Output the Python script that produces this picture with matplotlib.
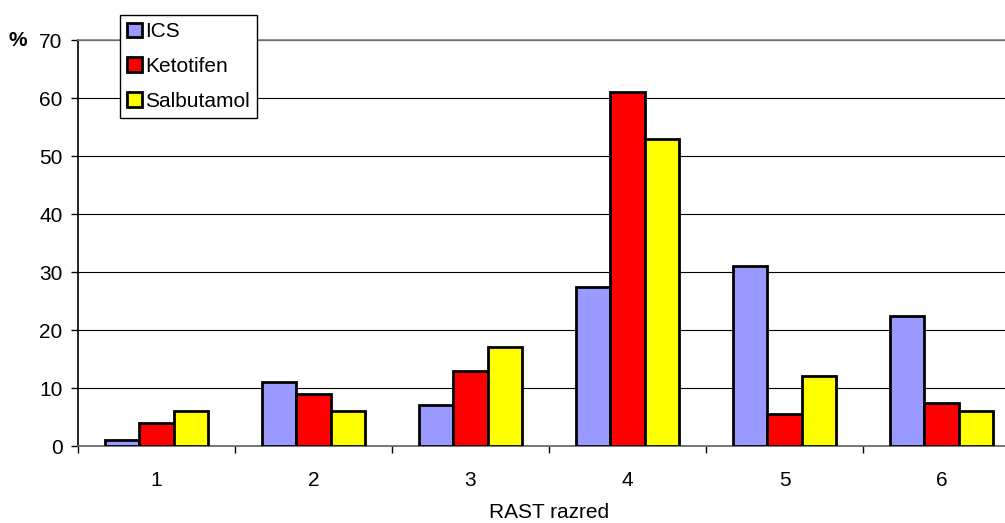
import numpy as np
import matplotlib
matplotlib.use('Agg')
import matplotlib.pyplot as plt

plt.rcParams['font.family'] = ['Liberation Sans', 'DejaVu Sans']

categories = ['1', '2', '3', '4', '5', '6']
ics = [1, 11, 7, 27.5, 31, 22.5]
ketotifen = [4, 9, 13, 61, 5.5, 7.5]
salbutamol = [6, 6, 17, 53, 12, 6]
series = [('ICS', ics, '#9999ff'), ('Ketotifen', ketotifen, '#ff0000'),
          ('Salbutamol', salbutamol, '#ffff00')]

fig = plt.figure(figsize=(10.05, 5.23), dpi=100)
ax = fig.add_axes([78 / 1005, 1 - 446 / 523, 942 / 1005, 406 / 523])

x = np.arange(len(categories))
w = 0.22
for i, (name, vals, col) in enumerate(series):
    ax.bar(x + (i - 1) * w, vals, w, color=col, edgecolor='black',
           linewidth=2, label=name, zorder=3)

ax.set_xlim(-0.5, len(categories) - 0.5)
ax.set_ylim(0, 70)
ax.set_yticks(range(0, 71, 10))
ax.set_xticks(x)
ax.set_xticklabels(categories)
ax.set_xticks(np.arange(-0.5, len(categories)), minor=True)
ax.tick_params(axis='x', which='major', length=0, pad=18, labelsize=15)
ax.tick_params(axis='x', which='minor', length=5, width=1, direction='out')
ax.tick_params(axis='y', length=5, width=1, direction='out', labelsize=15, pad=6)

ax.yaxis.grid(True, color='black', linewidth=0.8, zorder=0)
ax.spines['right'].set_visible(False)
ax.spines['top'].set_color('#808080')
ax.spines['top'].set_linewidth(1.2)
ax.spines['left'].set_linewidth(1.2)
ax.spines['bottom'].set_color('#606060')
ax.spines['bottom'].set_linewidth(1.2)

ax.set_xlabel('RAST razred', fontsize=15, labelpad=9)
fig.text(18 / 1005, 1 - 40 / 523, '%', fontsize=15, fontweight='bold',
         ha='center', va='center')

leg = ax.legend(loc='upper left', bbox_to_anchor=(120 / 1005, 1 - 15 / 523),
                bbox_transform=fig.transFigure, fancybox=False, framealpha=1,
                edgecolor='black', fontsize=15, handlelength=0.7,
                handleheight=0.7, handletextpad=0.15, labelspacing=0.75,
                borderpad=0.35, borderaxespad=0)
leg.get_frame().set_linewidth(1)
leg.set_zorder(5)

fig.savefig('out.png', dpi=100)
